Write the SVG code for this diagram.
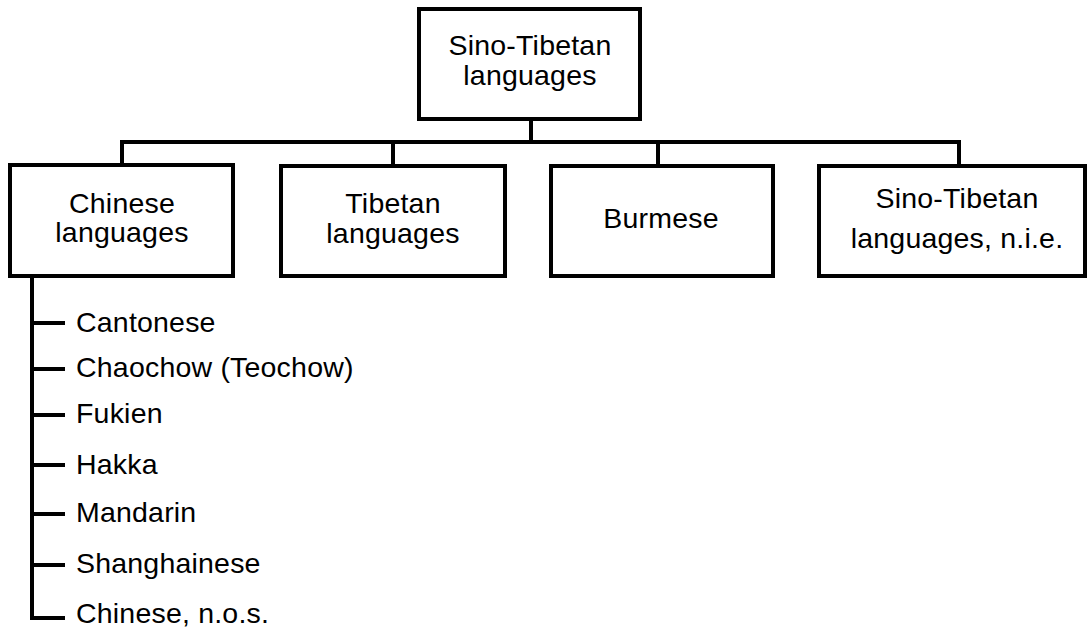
<svg xmlns="http://www.w3.org/2000/svg" width="1088" height="633" viewBox="0 0 1088 633">
<style>
.box{fill:#fff;stroke:#000;stroke-width:4}
.ln{fill:none;stroke:#000;stroke-width:4}
text{font-family:"Liberation Sans",Arial,sans-serif;font-size:28.5px;letter-spacing:0.2px;fill:#000}
.c{text-anchor:middle}
</style>
<rect width="1088" height="633" fill="#fff"/>
<g id="connectors">
<path class="ln" d="M531 119V142M122 165V142H959V166M393 142V166M658 142V166"/>
<path class="ln" d="M32 276V618H65M32 323H65M32 369H65M32 415H65M32 465H65M32 514H65M32 565H65"/>
</g>
<g id="root">
<rect class="box" x="419" y="9" width="221" height="110"/>
<text class="c" x="530" y="55">Sino-Tibetan</text>
<text class="c" x="530" y="85">languages</text>
</g>
<g id="chinese">
<rect class="box" x="10" y="165" width="223" height="111"/>
<text class="c" x="122" y="213">Chinese</text>
<text class="c" x="122" y="242">languages</text>
</g>
<g id="tibetan">
<rect class="box" x="281" y="166" width="224" height="110"/>
<text class="c" x="393" y="213">Tibetan</text>
<text class="c" x="393" y="243">languages</text>
</g>
<g id="burmese">
<rect class="box" x="551" y="166" width="222" height="110"/>
<text class="c" x="661" y="228">Burmese</text>
</g>
<g id="nie">
<rect class="box" x="819" y="166" width="266" height="110"/>
<text class="c" x="957" y="208">Sino-Tibetan</text>
<text class="c" x="957" y="248">languages, n.i.e.</text>
</g>
<g id="list">
<text x="76" y="332">Cantonese</text>
<text x="76" y="377">Chaochow (Teochow)</text>
<text x="76" y="423">Fukien</text>
<text x="76" y="474">Hakka</text>
<text x="76" y="522">Mandarin</text>
<text x="76" y="573">Shanghainese</text>
<text x="76" y="623">Chinese, n.o.s.</text>
</g>
</svg>
